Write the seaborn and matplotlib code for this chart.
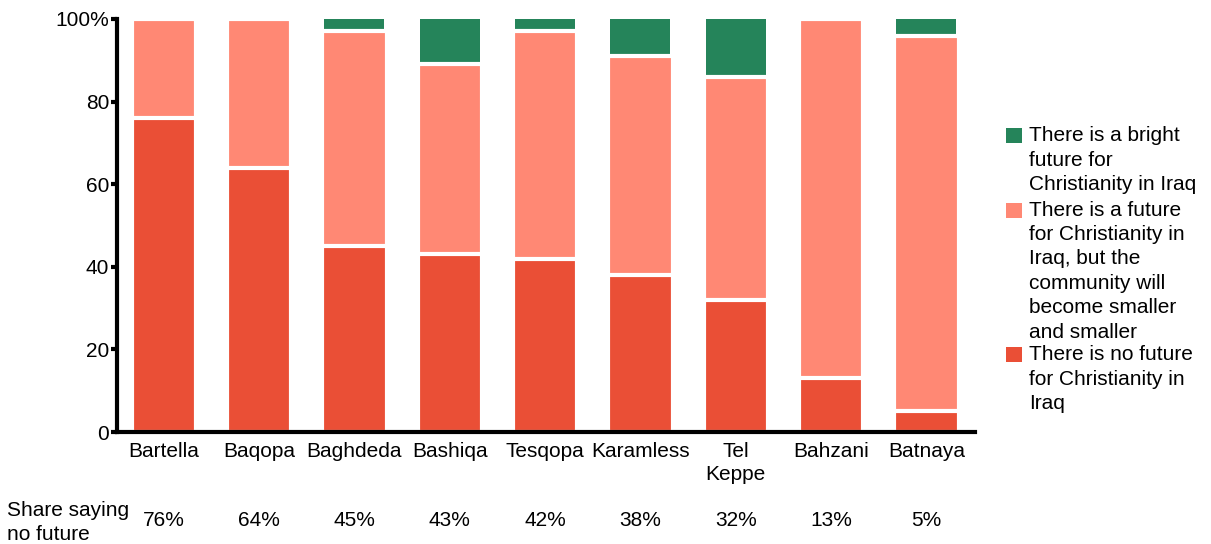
import matplotlib
matplotlib.use("Agg")
import matplotlib.pyplot as plt
import matplotlib.transforms as mtransforms
from matplotlib.patches import Rectangle
import pandas as pd
import seaborn as sns

# Survey results by town (percent of respondents)
locations = ["Bartella", "Baqopa", "Baghdeda", "Bashiqa", "Tesqopa",
             "Karamless", "Tel Keppe", "Bahzani", "Batnaya"]
tick_labels = ["Bartella", "Baqopa", "Baghdeda", "Bashiqa", "Tesqopa",
               "Karamless", "Tel\nKeppe", "Bahzani", "Batnaya"]
no_future = [76, 64, 45, 43, 42, 38, 32, 13, 5]
smaller_future = [24, 36, 52, 46, 55, 53, 54, 87, 91]
bright_future = [0, 0, 3, 11, 3, 9, 14, 0, 4]

legend_labels = [
    "There is a bright\nfuture for\nChristianity in Iraq",
    "There is a future\nfor Christianity in\nIraq, but the\ncommunity will\nbecome smaller\nand smaller",
    "There is no future\nfor Christianity in\nIraq",
]
y_ticks = [0, 20, 40, 60, 80, 100]
y_tick_labels = ["0", "20", "40", "60", "80", "100%"]

GREEN = "#25845A"
PINK = "#FF8874"
RED = "#EA4F36"

W, H = 1211, 544
FS = 15

sns.set_style("ticks")
plt.rcParams["font.family"] = ["Liberation Sans", "DejaVu Sans"]

df = pd.DataFrame({
    "location": locations,
    "no": no_future,
    "smaller": smaller_future,
    "bright": bright_future,
})
df["cum_smaller"] = df["no"] + df["smaller"]
df["cum_bright"] = df["cum_smaller"] + df["bright"]

fig = plt.figure(figsize=(W / 100, H / 100), dpi=100)
ax = fig.add_axes([117 / W, 1 - 432 / H, (975 - 117) / W, (432 - 19) / H])

# Stacked bars drawn as overlapping cumulative layers; white edges make the gaps
sns.barplot(data=df, x="location", y="cum_bright", order=locations, color=GREEN,
            saturation=1, width=0.63, linewidth=0, errorbar=None, ax=ax)
sns.barplot(data=df, x="location", y="cum_smaller", order=locations, color=PINK,
            saturation=1, width=0.674, linewidth=3, edgecolor="white",
            errorbar=None, ax=ax)
sns.barplot(data=df, x="location", y="no", order=locations, color=RED,
            saturation=1, width=0.674, linewidth=3, edgecolor="white",
            errorbar=None, ax=ax)

ax.set_xlim(-0.49, 8.51)
ax.set_ylim(0, 100)
ax.set_xlabel("")
ax.set_ylabel("")
ax.set_yticks(y_ticks)
ax.set_yticklabels(y_tick_labels)
ax.set_xticks(range(len(locations)))
ax.set_xticklabels(tick_labels)
for lab in ax.get_xticklabels():
    lab.set_linespacing(1.25)

sns.despine(ax=ax)
for side in ("left", "bottom"):
    ax.spines[side].set_linewidth(3)
    ax.spines[side].set_color("black")
ax.tick_params(axis="y", length=4, width=3, pad=1.5, labelsize=FS, colors="black")
ax.tick_params(axis="x", length=0, pad=7.5, labelsize=FS, colors="black")

# Row of "no future" shares under the town names
blend = mtransforms.blended_transform_factory(ax.transData, fig.transFigure)
for i, v in enumerate(no_future):
    ax.text(i, 1 - 521 / H, f"{v}%", transform=blend, ha="center", va="center",
            fontsize=FS, color="black")
fig.text(7 / W, 1 - 522.5 / H, "Share saying\nno future", ha="left", va="center",
         fontsize=FS, linespacing=1.37, color="black")

# Legend: swatch aligned with the first line of each wrapped label
legend_colors = [GREEN, PINK, RED]
cap_tops = [128.3, 202.7, 347.3]
for color, label, top in zip(legend_colors, legend_labels, cap_tops):
    fig.patches.append(Rectangle((1006 / W, 1 - (top + 15) / H), 15.5 / W, 15 / H,
                                 transform=fig.transFigure, facecolor=color,
                                 edgecolor="none"))
    fig.text(1029 / W, 1 - (top - 2) / H, label, ha="left", va="top",
             fontsize=FS, linespacing=1.36, color="black")

fig.savefig("out.png", dpi=100)
